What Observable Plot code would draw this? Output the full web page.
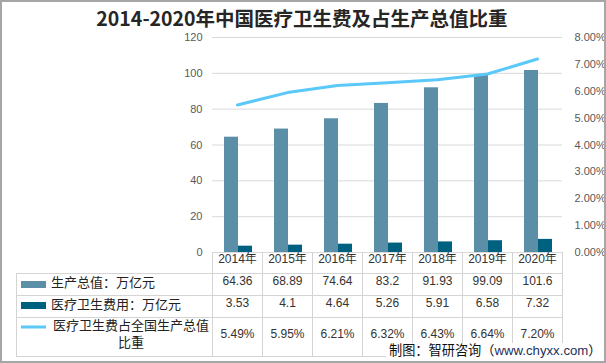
<!DOCTYPE html>
<html><head><meta charset="utf-8">
<script src="https://cdn.jsdelivr.net/npm/d3@7"></script>
<script src="https://cdn.jsdelivr.net/npm/@observablehq/plot@0.6"></script>
<style>
html,body{margin:0;padding:0;background:#fff;}
#chart{position:relative;width:606px;height:363px;overflow:hidden;}
</style></head><body><div id="chart"></div>
<script>
const years = ["2014年","2015年","2016年","2017年","2018年","2019年","2020年"];
const gdp = [64.36, 68.89, 74.64, 83.2, 91.93, 99.09, 101.6];
const health = [3.53, 4.1, 4.64, 5.26, 5.91, 6.58, 7.32];
const share = [5.49, 5.95, 6.21, 6.32, 6.43, 6.64, 7.20];
const leftTicks = [0, 20, 40, 60, 80, 100, 120];
const rightTicks = [0, 1, 2, 3, 4, 5, 6, 7, 8];
const seriesNames = ["生产总值：万亿元", "医疗卫生费用：万亿元", "医疗卫生费占全国生产总值", "比重"];
const title = "2014-2020年中国医疗卫生费及占生产总值比重";
const source = ["制图：智研咨询（", "www.chyxx.com", "）"];

const ratio = 120 / 8;
const data = years.map((year, i) => ({year, gdp: gdp[i], health: health[i], share: share[i]}));
const C1 = "#5b8fa7", C2 = "#00607f", C3 = "#5ac8f8";
const font = "'Liberation Sans','Noto Sans CJK SC',sans-serif";

const plot = Plot.plot({
  width: 606, height: 363,
  marginTop: 37, marginBottom: 111, marginLeft: 212, marginRight: 44,
  style: {fontFamily: font, fontSize: "12px", background: "white", overflow: "visible"},
  x: {type: "band", domain: years, padding: 0, axis: null},
  y: {domain: [0, 120], axis: null},
  marks: [
    Plot.ruleY(leftTicks, {stroke: "#d9d9d9", strokeWidth: 1}),
    Plot.axisY(leftTicks, {anchor: "left", tickSize: 0, tickPadding: 10, fontSize: 11, color: "#595959"}),
    Plot.axisY(rightTicks.map(d => d * ratio), {anchor: "right", tickSize: 0, tickPadding: 12, fontSize: 11, color: "#595959",
      tickFormat: d => (d / ratio).toFixed(2) + "%"}),
    Plot.barY(data, {x: "year", y: "gdp", fill: C1, insetLeft: 12, insetRight: 24}),
    Plot.barY(data, {x: "year", y: "health", fill: C2, insetLeft: 26, insetRight: 10}),
    Plot.line(data, {x: "year", y: d => d.share * ratio, stroke: C3, strokeWidth: 3}),
    Plot.text(data, {x: "year", text: "year", frameAnchor: "bottom", dy: 10, fontSize: 12, fill: "#333"}),
    Plot.text(data, {x: "year", text: d => String(d.gdp), frameAnchor: "bottom", dy: 32, fontSize: 12, fill: "#333"}),
    Plot.text(data, {x: "year", text: d => String(d.health), frameAnchor: "bottom", dy: 54, fontSize: 12, fill: "#333"}),
    Plot.text(data, {x: "year", text: d => d.share.toFixed(2) + "%", frameAnchor: "bottom", dy: 85, fontSize: 12, fill: "#333"})
  ]
});
document.getElementById("chart").appendChild(plot);

const svg = d3.select(plot);
const xs = plot.scale("x");
const bw = xs.bandwidth;
const xEnd = xs.apply(years[years.length - 1]) + bw;
const g = svg.append("g").attr("stroke", "#d4d4d4").attr("stroke-width", 1);
years.forEach((y) => {
  const xx = Math.round(xs.apply(y)) + 0.5;
  g.append("line").attr("x1", xx).attr("x2", xx).attr("y1", 252).attr("y2", 356);
});
g.append("line").attr("x1", Math.round(xEnd) + 0.5).attr("x2", Math.round(xEnd) + 0.5).attr("y1", 252).attr("y2", 356);
g.append("line").attr("x1", 16.5).attr("x2", 16.5).attr("y1", 273).attr("y2", 356);
[273, 295, 317, 356].forEach(yy => {
  g.append("line").attr("x1", 16).attr("x2", Math.round(xEnd) + 1).attr("y1", yy + 0.5).attr("y2", yy + 0.5);
});

const lg = svg.append("g").attr("font-family", font).attr("font-size", 13).attr("fill", "#222").attr("text-anchor", "start");
lg.append("rect").attr("x", 21).attr("y", 281).attr("width", 25).attr("height", 7).attr("fill", C1);
lg.append("rect").attr("x", 21).attr("y", 302).attr("width", 25).attr("height", 7).attr("fill", C2);
lg.append("line").attr("x1", 21).attr("x2", 46).attr("y1", 327).attr("y2", 327).attr("stroke", C3).attr("stroke-width", 3);
lg.append("text").attr("x", 51).attr("y", 284).attr("dominant-baseline", "middle").text(seriesNames[0]);
lg.append("text").attr("x", 51).attr("y", 306).attr("dominant-baseline", "middle").text(seriesNames[1]);
lg.append("text").attr("x", 131).attr("y", 327).attr("text-anchor", "middle").attr("dominant-baseline", "middle").text(seriesNames[2]);
lg.append("text").attr("x", 131).attr("y", 344).attr("text-anchor", "middle").attr("dominant-baseline", "middle").text(seriesNames[3]);

svg.append("text").attr("x", 302).attr("y", 21).attr("text-anchor", "middle").attr("dominant-baseline", "middle")
  .attr("font-family", "'Noto Sans CJK SC',sans-serif").attr("font-weight", 700).attr("font-size", 19.5).attr("fill", "#262626")
  .text(title);

const wm = svg.append("g");
wm.append("rect").attr("x", 386).attr("y", 343).attr("width", 218).attr("height", 18).attr("fill", "white");
const wt = wm.append("text").attr("x", 389).attr("y", 352).attr("text-anchor", "start").attr("dominant-baseline", "middle")
  .attr("font-family", font).attr("font-size", 13.2).attr("fill", "#111");
wt.append("tspan").text(source[0]);
wt.append("tspan").attr("fill", "#1c2f5a").text(source[1]);
wt.append("tspan").text(source[2]);

svg.append("rect").attr("x", 1).attr("y", 1).attr("width", 604).attr("height", 361)
  .attr("fill", "none").attr("stroke", "#a6a6a6").attr("stroke-width", 2);
</script></body></html>
